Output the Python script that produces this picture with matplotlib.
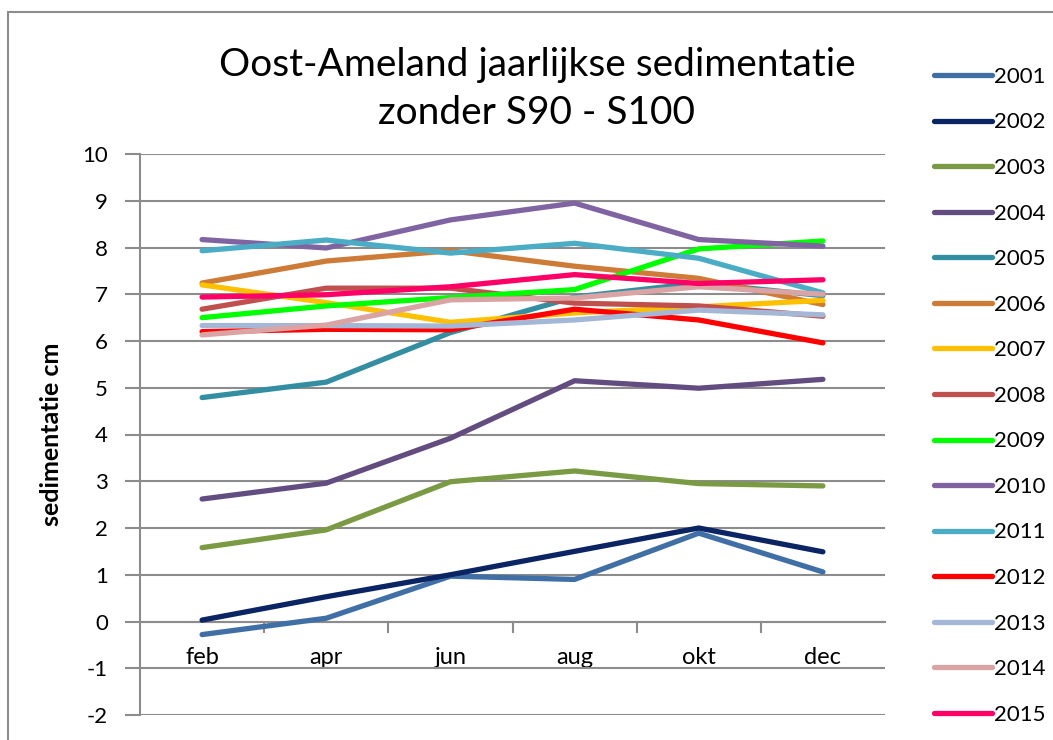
import matplotlib
matplotlib.use("Agg")
import matplotlib.pyplot as plt
from matplotlib.patches import Rectangle

months = ["feb", "apr", "jun", "aug", "okt", "dec"]
years = ["2001", "2002", "2003", "2004", "2005", "2006", "2007", "2008",
         "2009", "2010", "2011", "2012", "2013", "2014", "2015"]

s2001 = [-0.28, 0.07, 0.97, 0.90, 1.89, 1.06]
s2002 = [0.03, 0.53, 1.00, 1.50, 2.00, 1.49]
s2003 = [1.58, 1.96, 2.99, 3.22, 2.95, 2.90]
s2004 = [2.62, 2.96, 3.92, 5.15, 4.99, 5.18]
s2005 = [4.79, 5.12, 6.18, 6.94, 7.24, 6.97]
s2006 = [7.24, 7.71, 7.93, 7.60, 7.34, 6.78]
s2007 = [7.20, 6.82, 6.40, 6.60, 6.73, 6.87]
s2008 = [6.68, 7.13, 7.13, 6.81, 6.75, 6.53]
s2009 = [6.50, 6.75, 6.93, 7.10, 7.97, 8.14]
s2010 = [8.17, 7.99, 8.59, 8.95, 8.17, 8.03]
s2011 = [7.93, 8.16, 7.88, 8.09, 7.77, 7.03]
s2012 = [6.20, 6.25, 6.24, 6.68, 6.45, 5.96]
s2013 = [6.33, 6.33, 6.32, 6.45, 6.66, 6.56]
s2014 = [6.13, 6.34, 6.88, 6.92, 7.16, 7.00]
s2015 = [6.94, 6.99, 7.16, 7.42, 7.23, 7.31]

series = [s2001, s2002, s2003, s2004, s2005, s2006, s2007, s2008,
          s2009, s2010, s2011, s2012, s2013, s2014, s2015]
colors = ["#3F6FA5", "#0A2464", "#7A9A44", "#634C80", "#348EA2", "#CD7B36",
          "#FFC000", "#C0504D", "#00FF00", "#8064A2", "#4BACC6", "#FF0000",
          "#A5B7D6", "#D9A4A3", "#FF0066"]

plt.rcParams['font.family'] = ['Lato', 'DejaVu Sans']
plt.rcParams['axes.unicode_minus'] = False

fig = plt.figure(figsize=(10.53, 7.40), dpi=100)
W, H = 1053, 740
ax = fig.add_axes([140 / W, 1 - 715 / H, (885 - 140) / W, (715 - 154) / H])

x = list(range(len(months)))
for name, vals, c in zip(years, series, colors):
    ax.plot(x, vals, color=c, lw=3.8, solid_capstyle='round',
            solid_joinstyle='round', label=name, zorder=3)

grid_c = "#8C8C8C"
ax.set_xlim(-0.5, 5.5)
ax.set_ylim(-2, 10)
ax.set_yticks(range(-2, 11))
ax.yaxis.grid(True, color=grid_c, lw=1.5, zorder=1)
ax.set_axisbelow(True)

for s in ["top", "right"]:
    ax.spines[s].set_visible(False)
ax.spines["left"].set_color(grid_c)
ax.spines["left"].set_linewidth(1.5)
ax.spines["bottom"].set_position(("data", 0))
ax.spines["bottom"].set_color(grid_c)
ax.spines["bottom"].set_linewidth(1.5)

ax.set_xticks([i + 0.5 for i in range(len(months) - 1)])
ax.set_xticklabels([])
ax.set_xticks(x, minor=True)
ax.set_xticklabels(months, minor=True, fontsize=17)
ax.tick_params(axis="x", which="major", direction="out", length=8,
               width=1.5, color=grid_c)
ax.tick_params(axis="x", which="minor", length=0, pad=18)
ax.tick_params(axis="y", direction="out", length=11, width=1.5,
               color=grid_c, labelsize=16, pad=12)

ax.set_ylabel("sedimentatie cm", fontsize=18, fontweight="bold", labelpad=14)

fig.text(537 / W, 1 - 65 / H, "Oost-Ameland jaarlijkse sedimentatie",
         ha="center", va="center", fontsize=28)
fig.text(537 / W, 1 - 113 / H, "zonder S90 - S100",
         ha="center", va="center", fontsize=28)

fig.legend(loc="upper left", bbox_to_anchor=(925 / W, 1 - 58 / H),
           frameon=False, fontsize=16, handlelength=2.6, handletextpad=0.1,
           labelspacing=1.15, borderaxespad=0)

fig.patches.append(Rectangle((8 / W, -0.1), 2, 1 - 12 / H + 0.1,
                             transform=fig.transFigure, fill=False,
                             edgecolor="#8C8C8C", lw=1.5))

fig.savefig("out.png", dpi=100)
